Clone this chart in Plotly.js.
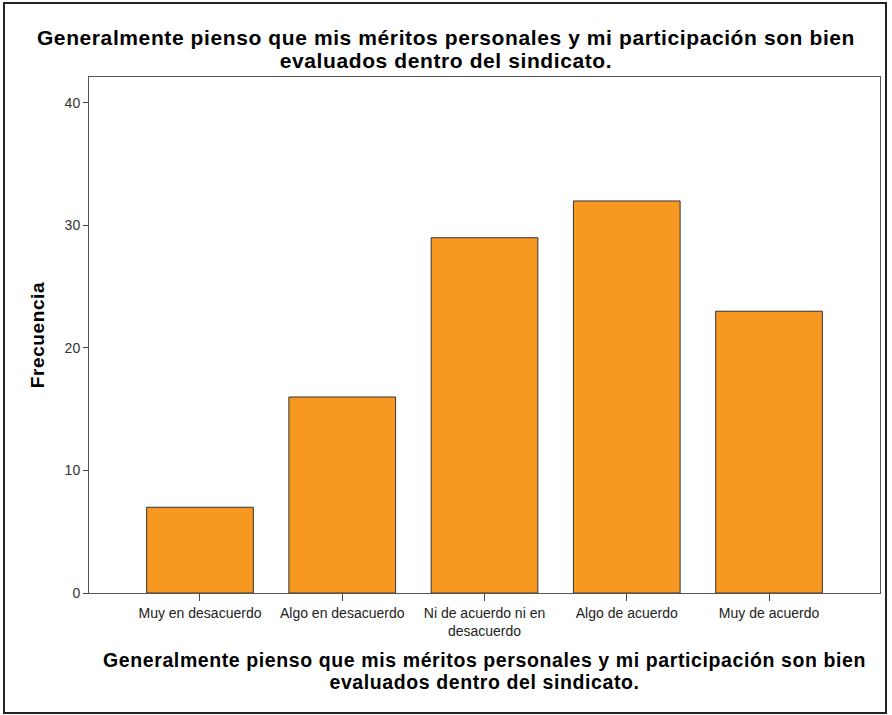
<!DOCTYPE html>
<html>
<head>
<meta charset="utf-8">
<script src="https://cdn.plot.ly/plotly-3.0.1.min.js"></script>
<style>
html,body{margin:0;padding:0;background:#fff;}
#wrap{position:relative;width:892px;height:715px;}
#chart{width:892px;height:715px;}
#frame{position:absolute;left:3px;top:2px;width:880px;height:708px;border:2px solid #222;pointer-events:none;}
.gtitle, .xtitle, .ytitle { letter-spacing: 0.6px; }
</style>
</head>
<body>
<div id="wrap"><div id="chart"></div><div id="frame"></div></div>
<script>
const categories = ["Muy en desacuerdo", "Algo en desacuerdo", "Ni de acuerdo ni en<br>desacuerdo", "Algo de acuerdo", "Muy de acuerdo"];
const frecuencias = [7, 16, 29, 32, 23];
const yTicks = [0, 10, 20, 30, 40];
const titleText = "Generalmente pienso que mis méritos personales y mi participación son bien<br>evaluados dentro del sindicato.";
const yTitle = "Frecuencia";

const trace = {
  type: "bar",
  x: categories.map((c, i) => i),
  y: frecuencias,
  width: 0.75,
  marker: {color: "rgb(247,152,33)", line: {color: "#333", width: 1}},
  hoverinfo: "y"
};

const layout = {
  width: 892, height: 715,
  margin: {l: 89, r: 12, t: 77, b: 122},
  paper_bgcolor: "#fff", plot_bgcolor: "#fff",
  font: {family: "Liberation Sans, Arial, sans-serif", color: "#222"},
  title: {
    text: "<b>" + titleText + "</b>",
    font: {size: 21, color: "#000"},
    x: 0.5, xanchor: "center", xref: "container",
    y: 1 - 45/715, yanchor: "top", yref: "container"
  },
  xaxis: {
    range: [-0.78, 4.78],
    tickmode: "array",
    tickvals: categories.map((c, i) => i),
    ticktext: categories,
    ticks: "outside", ticklen: 7, tickcolor: "#444", tickwidth: 1,
    showline: true, linecolor: "#555", linewidth: 1, mirror: true,
    showgrid: false, zeroline: false,
    tickfont: {size: 14, color: "#222"},
    title: {text: "<b>" + titleText + "</b>", font: {size: 19.5, color: "#000"}, standoff: 15}
  },
  yaxis: {
    range: [0, 42.12],
    tickmode: "array", tickvals: yTicks,
    ticks: "outside", ticklen: 5, tickcolor: "#444", tickwidth: 1,
    showline: true, linecolor: "#555", linewidth: 1, mirror: true,
    showgrid: false, zeroline: false,
    tickfont: {size: 14, color: "#333"},
    title: {text: "<b>" + yTitle + "</b>", font: {size: 19, color: "#000"}, standoff: 14}
  },
  showlegend: false
};

Plotly.newPlot("chart", [trace], layout, {displayModeBar: false, staticPlot: true}).then(function(gd){
  // slightly tighter line spacing for the two-line titles, as in the reference
  gd.querySelectorAll(".gtitle tspan.line, .xtitle tspan.line").forEach(function(t){
    if (t.getAttribute("dy") && parseFloat(t.getAttribute("dy")) > 0) t.setAttribute("dy", "1.1em");
  });
});
</script>
</body>
</html>
